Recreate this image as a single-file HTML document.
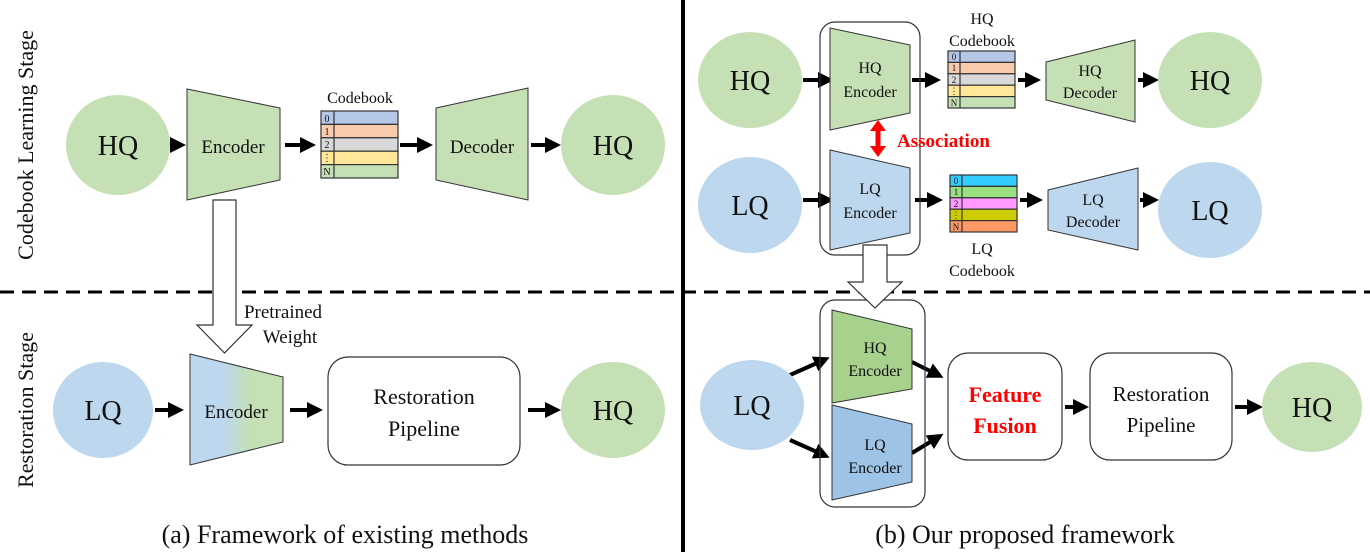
<!DOCTYPE html>
<html><head><meta charset="utf-8"><style>
html,body{margin:0;padding:0;background:#fff}
svg{display:block}
text{font-family:"Liberation Serif",serif;fill:#111}
</style></head><body>
<svg width="1370" height="552" viewBox="0 0 1370 552" xmlns="http://www.w3.org/2000/svg">
<defs>
<marker id="ah" markerWidth="4" markerHeight="4" refX="3" refY="2" orient="auto" markerUnits="strokeWidth">
<path d="M0,0 L4,2 L0,4 Z" fill="#000"/></marker>
<linearGradient id="gr" x1="0" x2="1" y1="0" y2="0">
<stop offset="0.35" stop-color="#bdd7ee"/><stop offset="0.65" stop-color="#c5e0b4"/></linearGradient>
</defs>
<g stroke="#000" stroke-width="4" marker-end="url(#ah)" fill="none">
<line x1="170" y1="145" x2="182" y2="145"/>
<line x1="285" y1="145" x2="312" y2="145"/>
<line x1="400" y1="145" x2="429" y2="145"/>
<line x1="531" y1="145" x2="557" y2="145"/>
<line x1="155" y1="410" x2="180" y2="410"/>
<line x1="290" y1="410" x2="319" y2="410"/>
<line x1="528" y1="410" x2="557" y2="410"/>
<line x1="803" y1="80" x2="830" y2="80"/>
<line x1="912" y1="80" x2="937" y2="80"/>
<line x1="1018" y1="80" x2="1037" y2="80"/>
<line x1="1138" y1="80" x2="1155" y2="80"/>
<line x1="803" y1="200" x2="830" y2="200"/>
<line x1="915" y1="200" x2="939" y2="200"/>
<line x1="1020" y1="200" x2="1039" y2="200"/>
<line x1="1140" y1="200" x2="1155" y2="200"/>
<line x1="790" y1="375" x2="826" y2="359"/>
<line x1="790" y1="440" x2="826" y2="456"/>
<line x1="912" y1="362" x2="940" y2="376"/>
<line x1="912" y1="453" x2="940" y2="436"/>
<line x1="1065" y1="407" x2="1085" y2="407"/>
<line x1="1235" y1="407" x2="1259" y2="407"/>
</g>
<line x1="0" y1="292" x2="1370" y2="292" stroke="#000" stroke-width="3" stroke-dasharray="14,8"/>
<line x1="683" y1="0" x2="683" y2="552" stroke="#000" stroke-width="4"/>
<!-- left top -->
<ellipse cx="118" cy="145" rx="52" ry="50" fill="#c5e0b4"/>
<text x="118" y="155" font-size="28" text-anchor="middle">HQ</text>
<polygon points="187,89 280,108 280,180 187,200" fill="#c5e0b4" stroke="#333"/>
<text x="233" y="153" font-size="19" text-anchor="middle">Encoder</text>
<text x="360" y="103" font-size="16" text-anchor="middle">Codebook</text>
<g stroke="#333" stroke-width="1.2">
<rect x="321" y="111" width="77" height="13.4" fill="#b4c7e7"/>
<rect x="321" y="124.4" width="77" height="13.4" fill="#f8cbad"/>
<rect x="321" y="137.8" width="77" height="13.4" fill="#d9d9d9"/>
<rect x="321" y="151.2" width="77" height="13.4" fill="#ffe699"/>
<rect x="321" y="164.6" width="77" height="13.4" fill="#c5e0b4"/>
<line x1="334" y1="111" x2="334" y2="178"/>
</g>
<g font-size="10" text-anchor="middle"><text x="327" y="122">0</text><text x="327" y="135">1</text><text x="327" y="148">2</text><text x="327" y="161">⋮</text><text x="327" y="175">N</text></g>
<polygon points="436,108 528,88 528,200 436,180" fill="#c5e0b4" stroke="#333"/>
<text x="482" y="153" font-size="19" text-anchor="middle">Decoder</text>
<ellipse cx="613" cy="145" rx="52" ry="50" fill="#c5e0b4"/>
<text x="613" y="155" font-size="28" text-anchor="middle">HQ</text>
<polygon points="213,200 236,200 236,325 252,325 224.5,353 197,325 213,325" fill="#fff" stroke="#333" stroke-width="1.2"/>
<text x="283" y="318" font-size="19" text-anchor="middle">Pretrained</text>
<text x="290" y="343" font-size="19" text-anchor="middle">Weight</text>
<!-- left bottom -->
<ellipse cx="103" cy="410" rx="50" ry="48" fill="#bdd7ee"/>
<text x="103" y="420" font-size="28" text-anchor="middle">LQ</text>
<polygon points="190,354 283,377 283,442 190,465" fill="url(#gr)" stroke="#333"/>
<text x="236" y="418" font-size="19" text-anchor="middle">Encoder</text>
<rect x="328" y="357" width="192" height="108" rx="20" fill="#fff" stroke="#333" stroke-width="1.2"/>
<text x="424" y="404" font-size="22" text-anchor="middle">Restoration</text>
<text x="424" y="436" font-size="22" text-anchor="middle">Pipeline</text>
<ellipse cx="613" cy="410" rx="52" ry="48" fill="#c5e0b4"/>
<text x="613" y="420" font-size="28" text-anchor="middle">HQ</text>
<text transform="translate(33,145) rotate(-90)" font-size="22" text-anchor="middle">Codebook Learning Stage</text>
<text transform="translate(33,410) rotate(-90)" font-size="22" text-anchor="middle">Restoration Stage</text>
<text x="345" y="543" font-size="26" text-anchor="middle">(a) Framework of existing methods</text>
<text x="1025" y="543" font-size="26" text-anchor="middle">(b) Our proposed framework</text>
<!-- right top -->
<rect x="820" y="22" width="100" height="233" rx="15" fill="none" stroke="#333" stroke-width="1.2"/>
<ellipse cx="750" cy="80" rx="52" ry="48" fill="#c5e0b4"/>
<text x="750" y="90" font-size="28" text-anchor="middle">HQ</text>
<polygon points="830,28 910,45 910,113 830,130" fill="#c5e0b4" stroke="#333"/>
<text x="870" y="73" font-size="16" text-anchor="middle">HQ</text>
<text x="870" y="97" font-size="16" text-anchor="middle">Encoder</text>
<text x="982" y="24" font-size="16" text-anchor="middle">HQ</text>
<text x="982" y="46" font-size="16" text-anchor="middle">Codebook</text>
<g stroke="#333" stroke-width="1.2">
<rect x="948" y="51" width="67" height="11.4" fill="#b4c7e7"/>
<rect x="948" y="62.4" width="67" height="11.4" fill="#f8cbad"/>
<rect x="948" y="73.8" width="67" height="11.4" fill="#d9d9d9"/>
<rect x="948" y="85.2" width="67" height="11.4" fill="#ffe699"/>
<rect x="948" y="96.6" width="67" height="11.4" fill="#c5e0b4"/>
<line x1="960" y1="51" x2="960" y2="108"/>
<rect x="950" y="175" width="67" height="11.4" fill="#33ccff"/>
<rect x="950" y="186.4" width="67" height="11.4" fill="#99e080"/>
<rect x="950" y="197.8" width="67" height="11.4" fill="#ff99ff"/>
<rect x="950" y="209.2" width="67" height="11.4" fill="#cccc00"/>
<rect x="950" y="220.6" width="67" height="11.4" fill="#ff9966"/>
<line x1="962" y1="175" x2="962" y2="232"/>
</g>
<g font-size="9" text-anchor="middle"><text x="954" y="60">0</text><text x="954" y="71">1</text><text x="954" y="83">2</text><text x="954" y="94">⋮</text><text x="954" y="106">N</text>
<text x="956" y="184">0</text><text x="956" y="195">1</text><text x="956" y="207">2</text><text x="956" y="218">⋮</text><text x="956" y="230">N</text></g>
<polygon points="1046,62 1135,40 1135,122 1046,100" fill="#c5e0b4" stroke="#333"/>
<text x="1090" y="76" font-size="16" text-anchor="middle">HQ</text>
<text x="1090" y="98" font-size="16" text-anchor="middle">Decoder</text>
<ellipse cx="1210" cy="80" rx="52" ry="48" fill="#c5e0b4"/>
<text x="1210" y="90" font-size="28" text-anchor="middle">HQ</text>
<path d="M870,131 L878,120 L886,131 L880.5,131 L880.5,146 L886,146 L878,157 L870,146 L875.5,146 L875.5,131 Z" fill="#f00"/>
<text x="897" y="147" font-size="19" font-weight="bold" style="fill:#f00">Association</text>
<ellipse cx="750" cy="205" rx="52" ry="48" fill="#bdd7ee"/>
<text x="750" y="215" font-size="28" text-anchor="middle">LQ</text>
<polygon points="830,150 910,168 910,233 830,250" fill="#bdd7ee" stroke="#333"/>
<text x="870" y="194" font-size="16" text-anchor="middle">LQ</text>
<text x="870" y="218" font-size="16" text-anchor="middle">Encoder</text>
<text x="982" y="254" font-size="16" text-anchor="middle">LQ</text>
<text x="982" y="276" font-size="16" text-anchor="middle">Codebook</text>
<polygon points="1048,190 1138,168 1138,250 1048,230" fill="#bdd7ee" stroke="#333"/>
<text x="1093" y="205" font-size="16" text-anchor="middle">LQ</text>
<text x="1093" y="227" font-size="16" text-anchor="middle">Decoder</text>
<ellipse cx="1210" cy="210" rx="52" ry="48" fill="#bdd7ee"/>
<text x="1210" y="220" font-size="28" text-anchor="middle">LQ</text>
<!-- right bottom -->
<rect x="820" y="300" width="105" height="207" rx="15" fill="none" stroke="#333" stroke-width="1.2"/>
<polygon points="863,245 887,245 887,282 902,282 875,308 848,282 863,282" fill="#fff" stroke="#333" stroke-width="1.2"/>
<ellipse cx="752" cy="405" rx="52" ry="45" fill="#bdd7ee"/>
<text x="752" y="415" font-size="28" text-anchor="middle">LQ</text>
<polygon points="832,310 912,329 912,389 832,403" fill="#a9d18e" stroke="#333"/>
<text x="875" y="353" font-size="16" text-anchor="middle">HQ</text>
<text x="875" y="376" font-size="16" text-anchor="middle">Encoder</text>
<polygon points="832,405 912,424 912,482 832,500" fill="#9dc3e6" stroke="#333"/>
<text x="875" y="450" font-size="16" text-anchor="middle">LQ</text>
<text x="875" y="473" font-size="16" text-anchor="middle">Encoder</text>
<rect x="948" y="353" width="114" height="107" rx="20" fill="#fff" stroke="#333" stroke-width="1.2"/>
<text x="1005" y="402" font-size="22" font-weight="bold" text-anchor="middle" style="fill:#f00">Feature</text>
<text x="1005" y="433" font-size="22" font-weight="bold" text-anchor="middle" style="fill:#f00">Fusion</text>
<rect x="1090" y="353" width="142" height="107" rx="20" fill="#fff" stroke="#333" stroke-width="1.2"/>
<text x="1161" y="401" font-size="21" text-anchor="middle">Restoration</text>
<text x="1161" y="432" font-size="21" text-anchor="middle">Pipeline</text>
<ellipse cx="1312" cy="407" rx="50" ry="45" fill="#c5e0b4"/>
<text x="1312" y="417" font-size="28" text-anchor="middle">HQ</text>
</svg>
</body></html>
